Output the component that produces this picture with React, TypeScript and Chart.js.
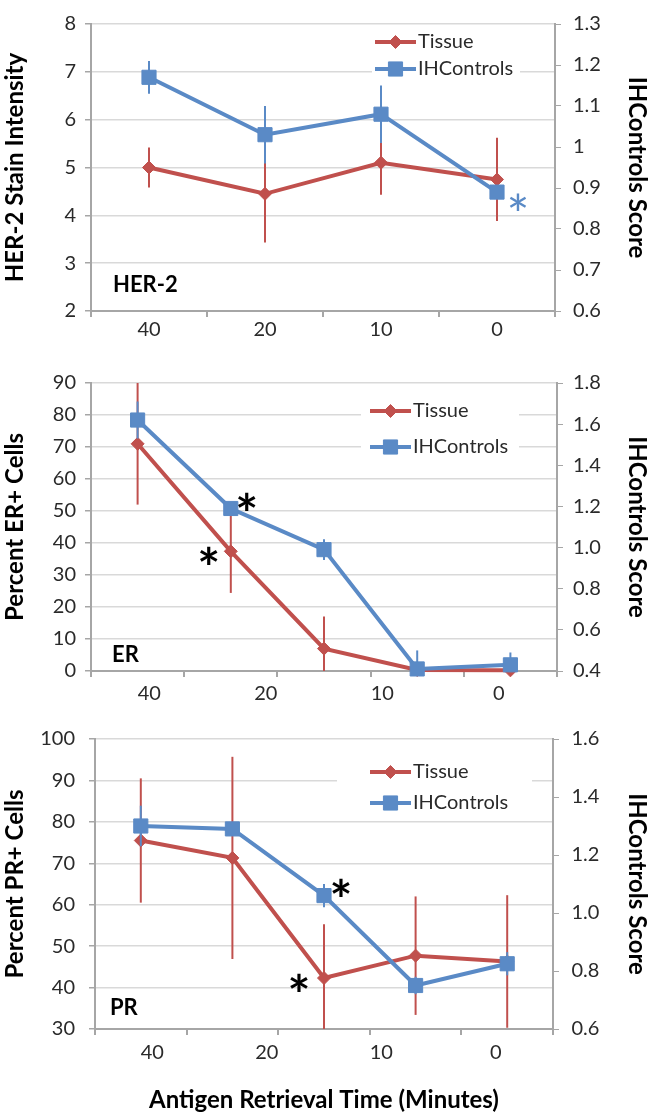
import React, { useEffect, useRef } from 'react';
import { Chart, registerables } from 'chart.js';

Chart.register(...registerables);

// ---------------- data ----------------
const xTickLabels = ['40', '20', '10', '0'];
const seriesNames = ['Tissue', 'IHControls'];
const rightTitle = 'IHControls Score';
const xAxisTitle = 'Antigen Retrieval Time (Minutes)';

const her2Tissue = [5.0, 4.45, 5.1, 4.75];
const her2TissueErr = [0.42, 1.02, 0.67, 0.87];
const her2Controls = [1.17, 1.03, 1.08, 0.89];
const her2ControlsErr = [0.04, 0.07, 0.07, 0.01];

const erTissue = [71, 37.4, 7, 0.3, 0.2];
const erTissueErr = [19, 13, 10, 0.5, 0.3];
const erControls = [1.62, 1.19, 0.99, 0.41, 0.43];
const erControlsErr = [0.09, 0.02, 0.05, 0.09, 0.06];

const prTissue = [75.5, 71.3, 42.3, 47.7, 46.3];
const prTissueErr = [15, 24.4, 13, 14.3, 16];
const prControls = [1.3, 1.29, 1.06, 0.75, 0.825];
const prControlsErr = [0.07, 0.02, 0.04, 0.03, 0.04];

// ---------------- styles ----------------
const RED = '#C0504D';
const BLUE = '#5A8AC6';
const AXIS = '#A6A6A6';
const GRID = '#D9D9D9';
const TEXT = '#2a2a2a';
const FONT = "Lato, 'Open Sans', sans-serif";
const TITLE_SIZE = 24;
const TICK_SIZE = 20;

Chart.defaults.font.family = FONT;
Chart.defaults.color = TEXT;

const fmtShort = (v: number) => String(Math.round(v * 10) / 10);
const fmtFixed = (v: number) => (Math.round(v * 10) / 10).toFixed(1);

const panels: any[] = [
  {
    top: 0, height: 351, padTop: 12, leftW: 91, rightW: 98, labelAxisH: 34, labelPad: -7,
    yTickPad: 9, rTickPad: 12,
    yTitle: 'HER-2 Stain Intensity', yMin: 2, yMax: 8, yStep: 1,
    rMin: 0.6, rMax: 1.3, rStep: 0.1, rFormat: fmtShort,
    tissue: her2Tissue, tissueErr: her2TissueErr, controls: her2Controls, controlsErr: her2ControlsErr,
    tag: 'HER-2', tagDx: 22, tagDy: -26,
    legendX: 284, legendRows: [18, 45], boxPad: 3, boxW: 148,
    stars: [{ series: 1, point: 3, dx: 21, dy: 10, color: BLUE, bold: false }],
    xTitle: null,
  },
  {
    top: 351, height: 360, padTop: 32, leftW: 91, rightW: 96, labelAxisH: 34, labelPad: -3,
    yTickPad: 9, rTickPad: 10,
    yTitle: 'Percent ER+ Cells', yMin: 0, yMax: 90, yStep: 10,
    rMin: 0.4, rMax: 1.8, rStep: 0.2, rFormat: fmtFixed,
    tissue: erTissue, tissueErr: erTissueErr, controls: erControls, controlsErr: erControlsErr,
    tag: 'ER', tagDx: 21, tagDy: -16,
    legendX: 279, legendRows: [28, 64], boxPad: 9, boxW: 158,
    stars: [
      { series: 1, point: 1, dx: 16, dy: -7, color: '#000', bold: true },
      { series: 0, point: 1, dx: -22, dy: 4, color: '#000', bold: true },
    ],
    xTitle: null,
  },
  {
    top: 711, height: 407, padTop: 28, leftW: 95, rightW: 100, labelAxisH: 83, labelPad: -2,
    yTickPad: 14, rTickPad: 12.5,
    yTitle: 'Percent PR+ Cells', yMin: 30, yMax: 100, yStep: 10,
    rMin: 0.6, rMax: 1.6, rStep: 0.2, rFormat: fmtFixed,
    tissue: prTissue, tissueErr: prTissueErr, controls: prControls, controlsErr: prControlsErr,
    tag: 'PR', tagDx: 15, tagDy: -21,
    legendX: 275, legendRows: [33, 64], boxPad: 33, boxW: 195,
    stars: [
      { series: 1, point: 2, dx: 17, dy: -8, color: '#000', bold: true },
      { series: 0, point: 2, dx: -25, dy: 4, color: '#000', bold: true },
    ],
    xTitle: xAxisTitle,
  },
];

function drawMarker(ctx: CanvasRenderingContext2D, style: string, x: number, y: number, r: number, color: string) {
  ctx.save();
  ctx.fillStyle = color;
  ctx.strokeStyle = color;
  ctx.lineWidth = 1;
  ctx.beginPath();
  if (style === 'rectRot') {
    ctx.moveTo(x - r, y);
    ctx.lineTo(x, y - r);
    ctx.lineTo(x + r, y);
    ctx.lineTo(x, y + r);
    ctx.closePath();
  } else {
    const h = Math.SQRT1_2 * r;
    ctx.rect(x - h, y - h, 2 * h, 2 * h);
  }
  ctx.fill();
  ctx.stroke();
  ctx.restore();
}

function makeOverlay(p: any) {
  return {
    id: 'overlay',
    beforeDatasetsDraw(chart: any) {
      const { ctx, chartArea: a } = chart;
      ctx.save();
      const r1 = a.top + p.legendRows[0];
      const r2 = a.top + p.legendRows[1];
      const x0 = a.left + p.legendX;
      ctx.fillStyle = '#ffffff';
      ctx.fillRect(x0 - p.boxPad, r1 - 15, p.boxW, r2 - r1 + 30);
      chart.data.datasets.forEach((ds: any, i: number) => {
        const y = i === 0 ? r1 : r2;
        ctx.strokeStyle = ds.borderColor;
        ctx.lineWidth = 4;
        ctx.beginPath();
        ctx.moveTo(x0, y);
        ctx.lineTo(x0 + 41, y);
        ctx.stroke();
        drawMarker(ctx, ds.pointStyle, x0 + 20.5, y, ds.pointRadius, ds.borderColor);
        ctx.fillStyle = TEXT;
        ctx.font = `20px ${FONT}`;
        ctx.textAlign = 'left';
        ctx.textBaseline = 'middle';
        ctx.fillText(ds.label, x0 + 43, y);
      });
      ctx.fillStyle = '#000';
      ctx.font = `bold 22px ${FONT}`;
      ctx.textAlign = 'left';
      ctx.textBaseline = 'middle';
      ctx.fillText(p.tag, a.left + p.tagDx, a.bottom + p.tagDy);
      ctx.restore();
    },
    beforeDatasetDraw(chart: any, args: any) {
      const { ctx, chartArea: a } = chart;
      const ds = chart.data.datasets[args.index];
      const errs: number[] = ds.errors || [];
      const ys = chart.scales[ds.yAxisID];
      const meta = chart.getDatasetMeta(args.index);
      ctx.save();
      ctx.beginPath();
      ctx.rect(a.left, a.top, a.right - a.left, a.bottom - a.top);
      ctx.clip();
      ctx.strokeStyle = ds.borderColor;
      ctx.lineWidth = 2;
      meta.data.forEach((pt: any, i: number) => {
        const v = ds.data[i];
        const e = errs[i] || 0;
        ctx.beginPath();
        ctx.moveTo(pt.x, ys.getPixelForValue(v - e));
        ctx.lineTo(pt.x, ys.getPixelForValue(v + e));
        ctx.stroke();
      });
      ctx.restore();
    },
    afterDatasetsDraw(chart: any) {
      const { ctx } = chart;
      p.stars.forEach((s: any) => {
        const el = chart.getDatasetMeta(s.series).data[s.point];
        ctx.save();
        ctx.font = `${s.bold ? 'bold ' : ''}54px ${FONT}`;
        ctx.fillStyle = s.color;
        ctx.textAlign = 'center';
        ctx.textBaseline = 'alphabetic';
        const m = ctx.measureText('*');
        const cy = el.y + s.dy;
        ctx.fillText('*', el.x + s.dx, cy + (m.actualBoundingBoxAscent - m.actualBoundingBoxDescent) / 2);
        ctx.restore();
      });
    },
  };
}

function buildConfig(p: any): any {
  const cats = p.tissue.map((_: number, i: number) => `c${i}`);
  return {
    type: 'line',
    data: {
      labels: cats,
      datasets: [
        {
          label: seriesNames[0], data: p.tissue, errors: p.tissueErr,
          xAxisID: 'x', yAxisID: 'y',
          borderColor: RED, backgroundColor: RED, borderWidth: 4,
          pointStyle: 'rectRot', pointRadius: 6.5, pointBorderWidth: 1,
          pointBackgroundColor: RED, pointBorderColor: RED,
          tension: 0, order: 2, clip: false,
        },
        {
          label: seriesNames[1], data: p.controls, errors: p.controlsErr,
          xAxisID: 'x', yAxisID: 'y1',
          borderColor: BLUE, backgroundColor: BLUE, borderWidth: 4,
          pointStyle: 'rect', pointRadius: 10, pointBorderWidth: 1,
          pointBackgroundColor: BLUE, pointBorderColor: BLUE,
          tension: 0, order: 1, clip: false,
        },
      ],
    },
    options: {
      responsive: false,
      animation: false,
      events: [],
      layout: { padding: { top: p.padTop, left: 0, right: 0, bottom: 0 } },
      plugins: { legend: { display: false }, tooltip: { enabled: false } },
      scales: {
        x: {
          type: 'category', axis: 'x', position: 'bottom', offset: true, weight: 0,
          afterFit: (s: any) => { s.height = 6; },
          grid: {
            display: true, drawOnChartArea: false, drawTicks: true, tickLength: 6, offset: true,
            color: AXIS, tickColor: AXIS, lineWidth: 2,
          },
          border: { display: true, color: AXIS, width: 2 },
          ticks: { display: false },
        },
        xl: {
          type: 'category', axis: 'x', position: 'bottom', labels: xTickLabels, offset: true, weight: 1,
          display: true,
          afterFit: (s: any) => { s.height = p.labelAxisH; },
          grid: { display: false },
          border: { display: false },
          ticks: { padding: p.labelPad, color: TEXT, font: { size: TICK_SIZE }, maxRotation: 0, autoSkip: false },
          title: p.xTitle
            ? { display: true, text: p.xTitle, color: '#000', font: { size: TITLE_SIZE, weight: 'bold' }, padding: { top: 0, bottom: 3 } }
            : { display: false },
        },
        y: {
          type: 'linear', position: 'left', min: p.yMin, max: p.yMax,
          afterFit: (s: any) => { s.width = p.leftW; },
          ticks: { stepSize: p.yStep, padding: p.yTickPad, color: TEXT, font: { size: TICK_SIZE }, callback: (v: any) => String(v) },
          grid: { color: GRID, lineWidth: 1.5, tickColor: AXIS, tickLength: 6, drawTicks: true },
          border: { color: AXIS, width: 2 },
          title: { display: true, text: p.yTitle, color: '#000', font: { size: TITLE_SIZE, weight: 'bold' }, padding: { top: 1, bottom: 1 } },
        },
        y1: {
          type: 'linear', position: 'right', min: p.rMin, max: p.rMax,
          afterFit: (s: any) => { s.width = p.rightW; },
          ticks: { stepSize: p.rStep, padding: p.rTickPad, color: TEXT, font: { size: TICK_SIZE }, callback: (v: any) => p.rFormat(Number(v)) },
          grid: { drawOnChartArea: false, tickColor: AXIS, tickLength: 6, drawTicks: true, color: AXIS },
          border: { color: AXIS, width: 2 },
          title: { display: true, text: rightTitle, color: '#000', font: { size: TITLE_SIZE, weight: 'bold' }, padding: { top: 1.5, bottom: 1.5 } },
        },
      },
    },
    plugins: [makeOverlay(p)],
  };
}

function PanelChart({ panel }: { panel: any }) {
  const ref = useRef<HTMLCanvasElement>(null);
  useEffect(() => {
    if (!ref.current) return;
    const chart = new Chart(ref.current, buildConfig(panel));
    return () => chart.destroy();
  }, [panel]);
  return (
    <canvas
      ref={ref}
      width={653}
      height={panel.height}
      style={{ position: 'absolute', left: 0, top: panel.top, width: 653, height: panel.height }}
    />
  );
}

export default function App() {
  return (
    <div style={{ position: 'absolute', left: 0, top: 0, width: 653, height: 1118, background: '#ffffff', overflow: 'hidden' }}>
      {panels.map((p, i) => (
        <PanelChart key={i} panel={p} />
      ))}
    </div>
  );
}
